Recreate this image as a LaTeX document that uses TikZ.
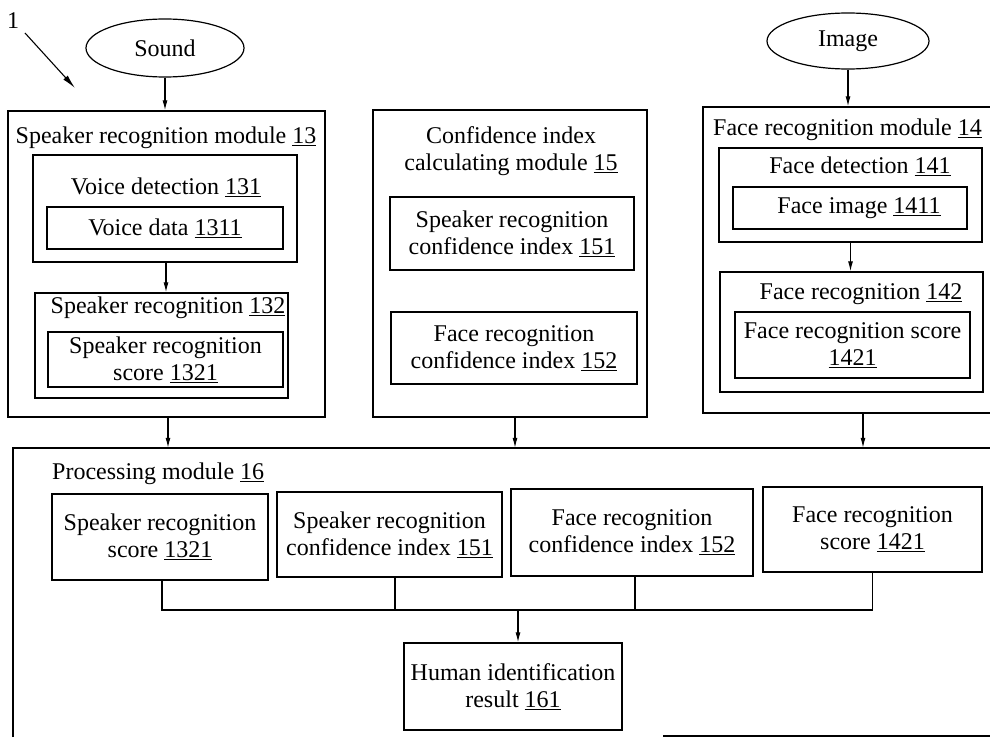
\documentclass[tikz,border=0pt]{standalone}
\usepackage{fontspec}
\setmainfont{Liberation Serif}
\usetikzlibrary{arrows.meta,shapes.geometric,calc}
\tikzset{
  box/.style={draw, line width=1.4pt, inner sep=0pt, align=center, anchor=center},
  txt/.style={inner sep=0pt, align=center},
  oval/.style={draw, ellipse, line width=1.2pt, inner sep=0pt},
  arr/.style={line width=1.1pt, -{Latex[length=10pt,width=5pt]}},
  wire/.style={line width=1.2pt},
  every node/.style={font=\fontsize{24}{27}\selectfont}
}
\begin{document}
\begin{tikzpicture}[x=1pt,y=-1pt]
\clip (0,0) rectangle (990,738);
\useasboundingbox (0,0) rectangle (990,738);
\fill[white] (0,0) rectangle (990,738);

% figure label
\node[txt] (lbl) at (13,21) {1};
\coordinate (lblA) at (25,33);
\coordinate (lblB) at (75,88);
\draw[line width=1.1pt, -{Latex[length=14pt,width=6pt]}] (lblA) -- (lblB);

% inputs
\node[oval, minimum width=158, minimum height=58] (sound) at (165,48) {Sound};
\node[oval, minimum width=162, minimum height=56] (image) at (848,41) {Image};

% Speaker recognition module 13
\node[box, minimum width=317, minimum height=306] (m13) at (166.5,264) {};
\node[txt] (m13t) at (166,138) {Speaker recognition module \underline{13}};
\node[box, minimum width=264, minimum height=107] (vd) at (165,208.5) {};
\node[txt] (vdt) at (166,187) {Voice detection \underline{131}};
\node[box, minimum width=236, minimum height=42] (vdata) at (165,228) {Voice data \underline{1311}};
\node[box, minimum width=253, minimum height=105] (sr) at (161.5,345.5) {};
\node[txt] (srt) at (168,308) {Speaker recognition \underline{132}};
\node[box, minimum width=235, minimum height=55] (srs) at (165.5,359.5) {Speaker recognition\\score \underline{1321}};

% Confidence index calculating module 15
\node[box, minimum width=274, minimum height=307] (m15) at (510,263.5) {};
\node[txt] (m15t) at (511,151) {Confidence index\\calculating module \underline{15}};
\node[box, minimum width=244, minimum height=73] (c151) at (512,233.5) {Speaker recognition\\confidence index \underline{151}};
\node[box, minimum width=246, minimum height=72] (c152) at (514,348) {Face recognition\\confidence index \underline{152}};

% Face recognition module 14
\node[box, minimum width=320, minimum height=306] (m14) at (863,260) {};
\node[txt, anchor=west] (m14t) at (713,130) {Face recognition module \underline{14}};
\node[box, minimum width=263, minimum height=94] (fd) at (850.5,195) {};
\node[txt] (fdt) at (860,166) {Face detection \underline{141}};
\node[box, minimum width=234, minimum height=42] (fimg) at (850,208) {\hspace*{18pt}Face image \underline{1411}};
\node[box, minimum width=263, minimum height=120] (fr) at (851.5,332) {};
\node[txt] (frt) at (861,294) {Face recognition \underline{142}};
\node[box, minimum width=235, minimum height=66] (frs) at (852.5,345) {Face recognition score\\\underline{1421}};

% Processing module 16
\node[minimum width=1000, minimum height=289, inner sep=0pt] (p16) at (513,592.5) {};
\draw[line width=1.4pt] (p16.south west) -- (p16.north west) -- (p16.north east);
\coordinate (p16cut) at (663,736);
\draw[line width=1.4pt] (p16cut) -- (p16cut -| p16.east);
\node[txt, anchor=west] (p16t) at (52,474) {Processing module \underline{16}};
\node[box, minimum width=216, minimum height=86] (pa) at (160,537) {Speaker recognition\\score \underline{1321}};
\node[box, minimum width=225, minimum height=85] (pb) at (389.5,534.5) {Speaker recognition\\confidence index \underline{151}};
\node[box, minimum width=242, minimum height=87] (pc) at (632,532.5) {Face recognition\\confidence index \underline{152}};
\node[box, minimum width=219, minimum height=85] (pd) at (872.5,529.5) {Face recognition\\score \underline{1421}};
\node[box, minimum width=218, minimum height=87] (res) at (513,686.5) {Human identification\\result \underline{161}};

% connectors
\draw[arr] (sound.south) -- (sound.south |- m13.north);
\draw[arr] ([xshift=1pt]vd.south) -- ([xshift=1pt]vd.south |- sr.north);
\draw[arr] (image.south) -- (image.south |- m14.north);
\draw[arr] (fd.south) -- (fd.south |- fr.north);
\draw[arr] ([xshift=1.5pt]m13.south) -- ([xshift=1.5pt]m13.south |- p16.north);
\draw[arr] ([xshift=5pt]m15.south) -- ([xshift=5pt]m15.south |- p16.north);
\draw[arr] (m14.south) -- (m14.south |- p16.north);

\coordinate (bus) at (0,610);
\draw[wire] ([xshift=2pt]pa.south) -- ([xshift=2pt]pa.south |- bus) -| (pd.south);
\draw[wire] ([xshift=5.5pt]pb.south) -- ([xshift=5.5pt]pb.south |- bus);
\draw[wire] ([xshift=3pt]pc.south) -- ([xshift=3pt]pc.south |- bus);
\draw[arr] ([xshift=5pt]res.north |- bus) -- ([xshift=5pt]res.north);
\end{tikzpicture}
\end{document}
